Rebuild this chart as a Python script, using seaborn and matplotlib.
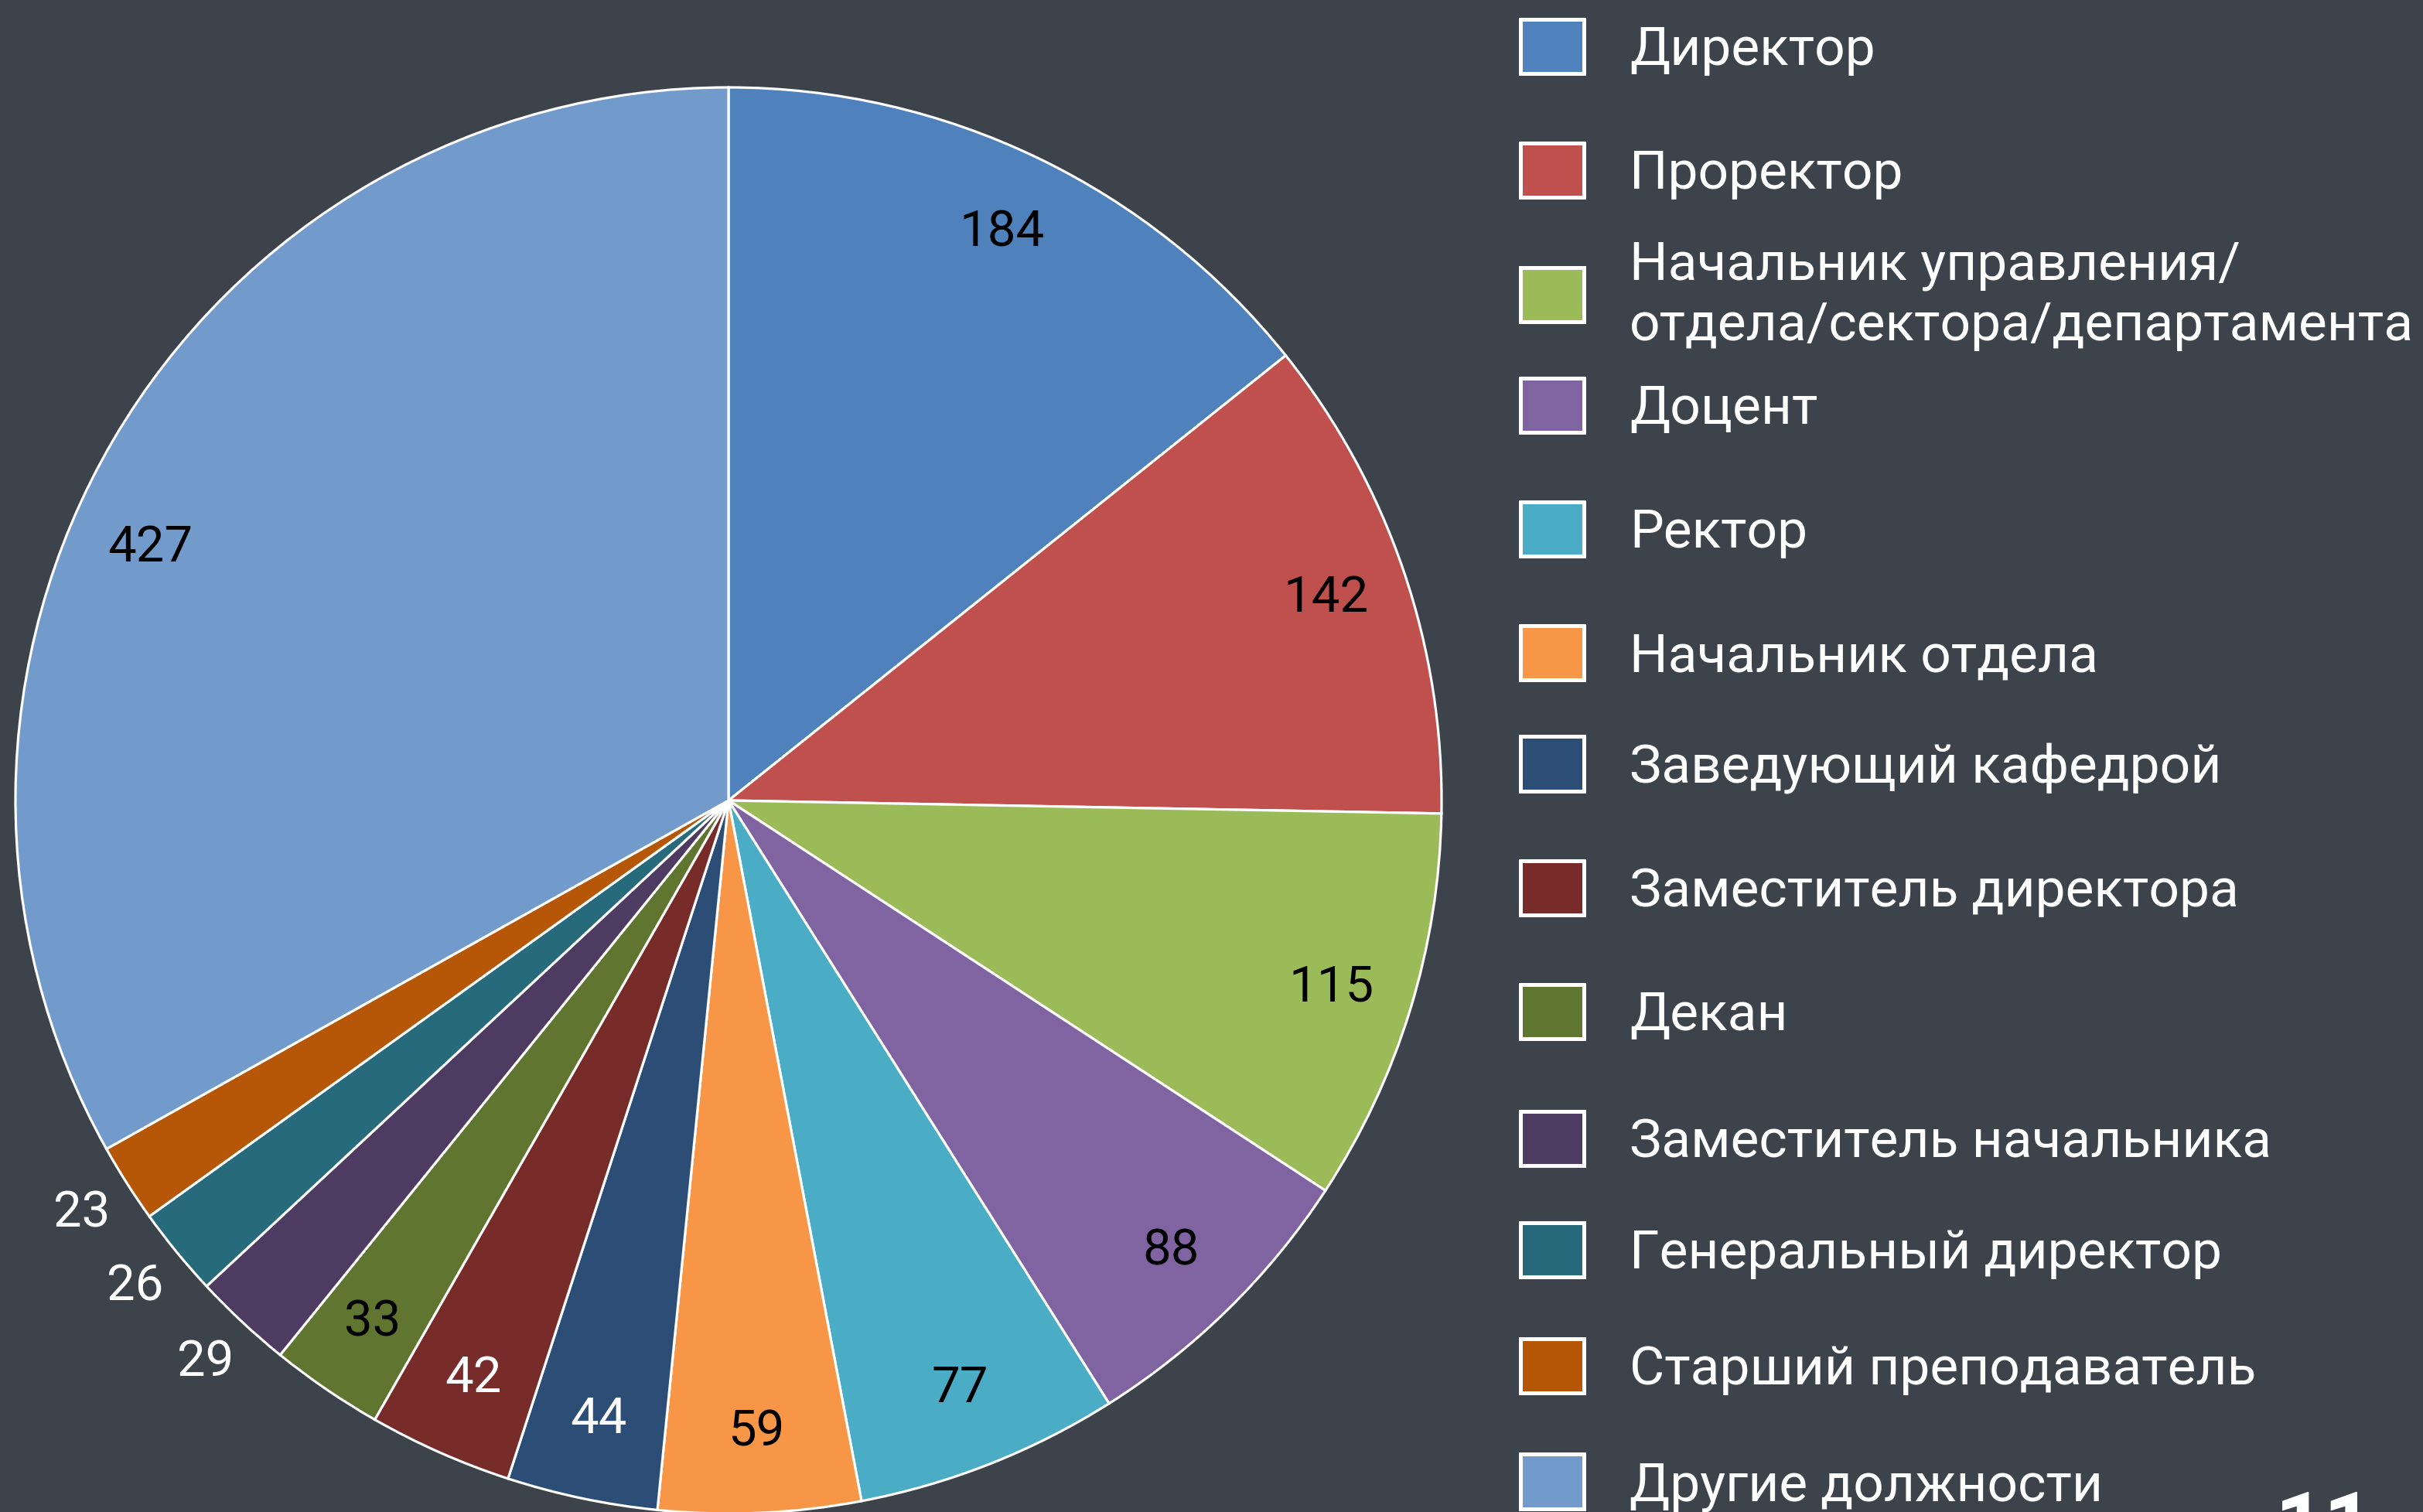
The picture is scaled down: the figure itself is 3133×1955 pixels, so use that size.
import matplotlib
matplotlib.use("Agg")
import matplotlib.pyplot as plt
from matplotlib import font_manager
import seaborn as sns
import numpy as np

# ---------------- data ----------------
categories = [
    "Директор",
    "Проректор",
    "Начальник управления/\nотдела/сектора/департамента",
    "Доцент",
    "Ректор",
    "Начальник отдела",
    "Заведующий кафедрой",
    "Заместитель директора",
    "Декан",
    "Заместитель начальника",
    "Генеральный директор",
    "Старший преподаватель",
    "Другие должности",
]
values = [184, 142, 115, 88, 77, 59, 44, 42, 33, 29, 26, 23, 427]
page_number = "11"

# ---------------- style ----------------
colors = ["#4F81BD", "#C0504D", "#9BBB59", "#8064A2", "#4BACC6", "#F79646",
          "#2C4D75", "#772C2A", "#5F7530", "#4D3B62", "#276A7C", "#B65708",
          "#729ACA"]
label_colors = ["black", "black", "black", "black", "black", "black",
                "white", "white", "black", "white", "white", "white", "black"]
outside = [False] * 9 + [True, True, True] + [False]
label_angle_shift = [0] * 12 + [6.7]   # degrees, label placement tweak
legend_rows_px = [62, 222, 382, 526, 686, 846, 990, 1150, 1310, 1474, 1618, 1768, 1918]

BG = "#3c434a"
sns.set_theme(style="dark", rc={"figure.facecolor": BG, "axes.facecolor": BG,
                                "savefig.facecolor": BG})
plt.rcParams["font.family"] = ["Roboto", "DejaVu Sans"]

names = {f.name for f in font_manager.fontManager.ttflist}
if "Liberation Sans Narrow" in names:
    leg_family = ["Liberation Sans Narrow", "DejaVu Sans"]
    leg_fs = 59
    num_family = ["Liberation Sans Narrow", "DejaVu Sans"]
    num_fs = 52
else:
    leg_family = ["Roboto", "DejaVu Sans"]
    leg_fs = 50
    num_family = ["Roboto", "DejaVu Sans"]
    num_fs = 47

W, H = 3133, 1956
fig = plt.figure(figsize=(W / 100, H / 100), dpi=100)
cx, cy, r = 942, 1036, 922
ax = fig.add_axes([(cx - r) / W, (H - cy - r) / H, 2 * r / W, 2 * r / H])

palette = sns.color_palette(colors)
total = sum(values)
wedges, texts, autotexts = ax.pie(
    values, colors=palette, startangle=90, counterclock=False, radius=1,
    autopct=lambda p: f"{int(round(p * total / 100))}", pctdistance=0.885,
    wedgeprops=dict(edgecolor="white", linewidth=2.3),
    textprops=dict(fontsize=num_fs, color="black", family=num_family))
ax.set_xlim(-1, 1)
ax.set_ylim(-1, 1)
ax.axis("off")

for t, w, c, out, sh in zip(autotexts, wedges, label_colors, outside, label_angle_shift):
    t.set_color(c)
    rr = 1.075 if out else 0.885
    th = np.deg2rad((w.theta1 + w.theta2) / 2 + sh)
    t.set_position((rr * np.cos(th), rr * np.sin(th)))

# ---------------- legend ----------------
for w, lab, ypx in zip(wedges, categories, legend_rows_px):
    leg = fig.legend([w], [lab], loc="center left",
                     bbox_to_anchor=(1966 / W, 1 - ypx / H),
                     frameon=False, prop=dict(family=leg_family, size=leg_fs),
                     borderpad=0, borderaxespad=0,
                     handlelength=1.05 * 56 / leg_fs, handleheight=1.05 * 56 / leg_fs,
                     handletextpad=0.76 * 56 / leg_fs, labelcolor="white")
    for h in leg.legend_handles:
        h.set_linewidth(3.6)
        h.set_edgecolor("white")
    for t in leg.get_texts():
        t.set_linespacing(1.22)
    if "\n" in lab:
        try:
            for col in leg._legend_handle_box.get_children():
                for item in col.get_children():
                    item.align = "center"
        except Exception:
            pass

# page number (cut off at the bottom edge)
fig.text(2942 / W, 1 - 2008 / H, page_number, fontsize=80, fontweight="bold",
         color="white", ha="left", va="baseline", family=["Roboto", "DejaVu Sans"])

fig.savefig("out.png", dpi=100, facecolor=BG)
